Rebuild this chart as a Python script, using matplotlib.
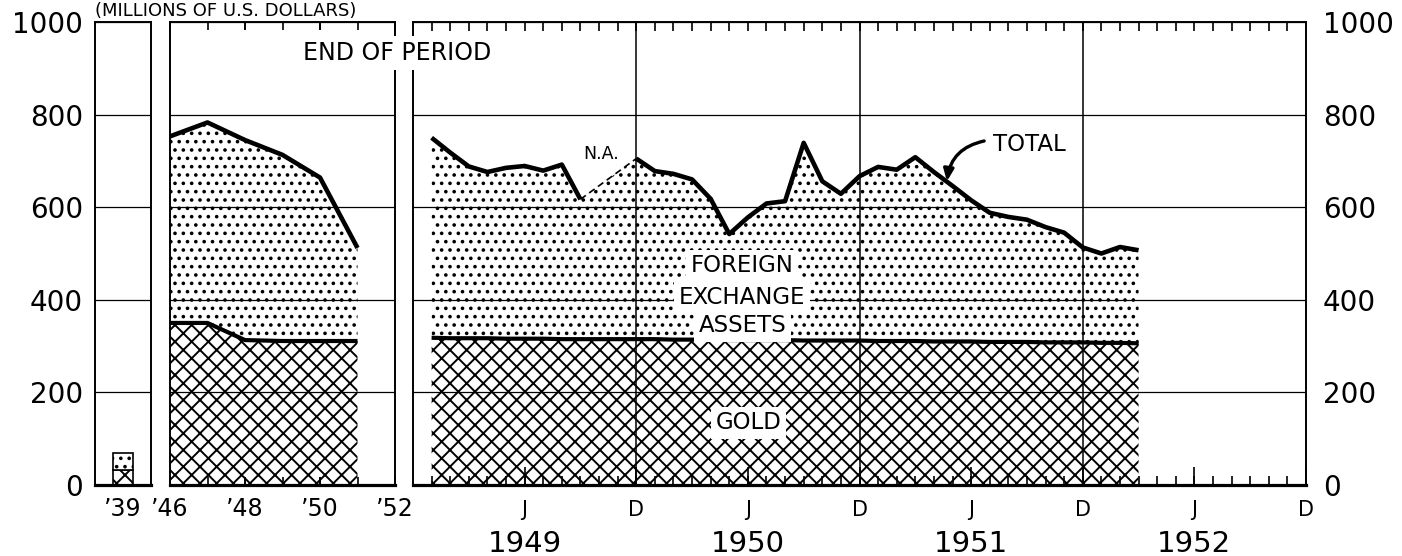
import numpy as np
import matplotlib
matplotlib.use('Agg')
import matplotlib.pyplot as plt
import matplotlib.transforms as mtransforms

plt.rcParams['font.family'] = 'DejaVu Sans'
plt.rcParams['hatch.linewidth'] = 1.4
plt.rcParams['hatch.color'] = 'black'

# pre-war bar
prewar_label = ['’39']
prewar_total = [70]
prewar_gold = [32]

# end of year, 1946-1951
years = [1946, 1947, 1948, 1949, 1950, 1951]
year_ticks = [1946, 1948, 1950, 1952]
year_labels = ['’46', '’48', '’50', '’52']
annual_total = [753, 783, 745, 713, 664, 512]
annual_gold = [350, 350, 313, 311, 311, 311]

# end of month, Jan 1949 - Mar 1952 (month 0 = Dec 1948)
months = np.arange(1, 40)
monthly_total = np.array([
    750, 718, 688, 676, 685, 689, 679, 692, 617, np.nan, np.nan, 705,
    678, 672, 660, 618, 542, 578, 608, 613, 739, 656, 629, 667,
    687, 681, 708, 676, 646, 615, 588, 579, 573, 557, 545, 513,
    500, 514, 507])
monthly_gold = np.array([
    318, 317, 317, 317, 316, 316, 316, 315, 315, 315, 315, 315,
    315, 314, 314, 314, 313, 313, 313, 313, 312, 312, 312, 312,
    311, 311, 311, 310, 310, 310, 309, 309, 309, 308, 308, 308,
    307, 307, 306])
month_ticks = [6, 12, 18, 24, 30, 36, 42, 48]
month_labels = ['J', 'D', 'J', 'D', 'J', 'D', 'J', 'D']
year_names = ['1949', '1950', '1951', '1952']

GOLD_HATCH = 'xx'
FX_HATCH = '..'

W, H = 1402, 556
fig = plt.figure(figsize=(W / 100, H / 100), dpi=100)


def px_axes(x0, x1, ytop=22, ybot=485):
    return fig.add_axes([x0 / W, 1 - ybot / H, (x1 - x0) / W, (ybot - ytop) / H])


ax1 = px_axes(95, 151)
ax2 = px_axes(170, 395)
ax3 = px_axes(413, 1306)

for ax in (ax1, ax2, ax3):
    ax.set_ylim(0, 1000)
    ax.set_yticks([0, 200, 400, 600, 800, 1000])
    ax.tick_params(axis='y', length=0, labelsize=20)
    ax.grid(axis='y', color='black', linewidth=0.9)
    ax.set_axisbelow(False)
    for s in ax.spines.values():
        s.set_linewidth(1.4)
    ax.spines['bottom'].set_linewidth(2.3)

ax1.tick_params(axis='y', labelleft=True, pad=8.6)
ax2.tick_params(axis='y', labelleft=False)
ax3.tick_params(axis='y', labelleft=False, labelright=True, pad=12)

# '39 panel
ax1.set_xlim(0, 1)
ax1.bar([0.5], prewar_gold, width=0.36, facecolor='white', edgecolor='black',
        linewidth=1.2, hatch=GOLD_HATCH, zorder=1)
ax1.bar([0.5], np.array(prewar_total) - np.array(prewar_gold), bottom=prewar_gold,
        width=0.36, facecolor='white', edgecolor='black', linewidth=1.2, hatch=FX_HATCH, zorder=1)
ax1.set_xticks([0.5], prewar_label)
ax1.tick_params(axis='x', length=0, labelsize=17, pad=8.6)

# annual panel
ax2.set_xlim(1946, 1952)
ax2.fill_between(years, 0, annual_gold, facecolor='white', edgecolor='black',
                 linewidth=0, hatch=GOLD_HATCH, zorder=1)
ax2.fill_between(years, annual_gold, annual_total, facecolor='white', edgecolor='black',
                 linewidth=0, hatch=FX_HATCH, zorder=1)
ax2.plot(years, annual_gold, color='black', lw=3, zorder=3, solid_capstyle='butt')
ax2.plot(years, annual_total, color='black', lw=3.3, zorder=3, solid_capstyle='butt')
ax2.set_xticks(year_ticks, year_labels)
ax2.set_xticks(years[1:], minor=True)
ax2.xaxis.remove_overlapping_locs = False
ax2.tick_params(axis='x', which='both', direction='in', length=6, width=1.2,
                top=True, bottom=True, labelsize=17, pad=8.6)

# monthly panel
ax3.set_xlim(0, 48)
ok = np.isfinite(monthly_total)
ax3.fill_between(months, 0, monthly_gold, facecolor='white', edgecolor='black',
                 linewidth=0, hatch=GOLD_HATCH, zorder=1)
ax3.fill_between(months[ok], monthly_gold[ok], monthly_total[ok], facecolor='white',
                 edgecolor='black', linewidth=0, hatch=FX_HATCH, zorder=1)
ax3.plot(months, monthly_gold, color='black', lw=3, zorder=3, solid_capstyle='butt')
ax3.plot(months, monthly_total, color='black', lw=3.3, zorder=3, solid_capstyle='butt')
gap = np.where(~ok)[0]
ends = [gap[0] - 1, gap[-1] + 1]
ax3.plot(months[ends], monthly_total[ends], color='black', lw=1.2, ls=(0, (4, 2.5)), zorder=3)

ax3.set_xticks(month_ticks, month_labels)
ax3.set_xticks(np.arange(1, 48), minor=True)
ax3.xaxis.remove_overlapping_locs = False
ax3.tick_params(axis='x', which='major', direction='in', length=13, width=1.2,
                bottom=True, top=False, labelsize=15, pad=10.5)
ax3.tick_params(axis='x', which='minor', direction='in', length=6.5, width=1.2,
                bottom=True, top=True)
for d in month_ticks[1:-1:2]:
    ax3.axvline(d, color='black', linewidth=1.1, zorder=2.5)

trans = mtransforms.blended_transform_factory(ax3.transData, ax3.transAxes)
for pos, name in zip(month_ticks[0::2], year_names):
    ax3.text(pos, -0.1437, name, transform=trans, ha='center', va='baseline', fontsize=21)

white = dict(boxstyle='square,pad=0.2', facecolor='white', edgecolor='none')
ax3.text(17.7, 459, 'FOREIGN', ha='center', va='baseline', fontsize=16.5, bbox=white, zorder=4)
ax3.text(17.7, 392, 'EXCHANGE', ha='center', va='baseline', fontsize=16.5, bbox=white, zorder=4)
ax3.text(17.7, 330, 'ASSETS', ha='center', va='baseline', fontsize=16.5, bbox=white, zorder=4)
ax3.text(18.05, 120, 'GOLD', ha='center', va='baseline', fontsize=16.5, bbox=white, zorder=4)
ax3.text(10.1, 704, 'N.A.', ha='center', va='baseline', fontsize=12.5)
ax3.text(33.15, 721, 'TOTAL', ha='center', va='baseline', fontsize=16.5)
ax3.annotate('', xy=(28.7, 656), xytext=(30.7, 743),
             arrowprops=dict(arrowstyle='-|>,head_length=0.7,head_width=0.3', color='black',
                             lw=2.4, connectionstyle='arc3,rad=0.35', shrinkA=0, shrinkB=0))

fig.text(303 / W, 1 - 60 / H, 'END OF PERIOD', ha='left', va='baseline', fontsize=17,
         bbox=dict(boxstyle='square,pad=0.2', facecolor='white', edgecolor='none'), zorder=5)
fig.text(95 / W, 1 - 16 / H, '(MILLIONS OF U.S. DOLLARS)', ha='left', va='baseline', fontsize=13)

fig.savefig('out.png', dpi=100, facecolor='white')
